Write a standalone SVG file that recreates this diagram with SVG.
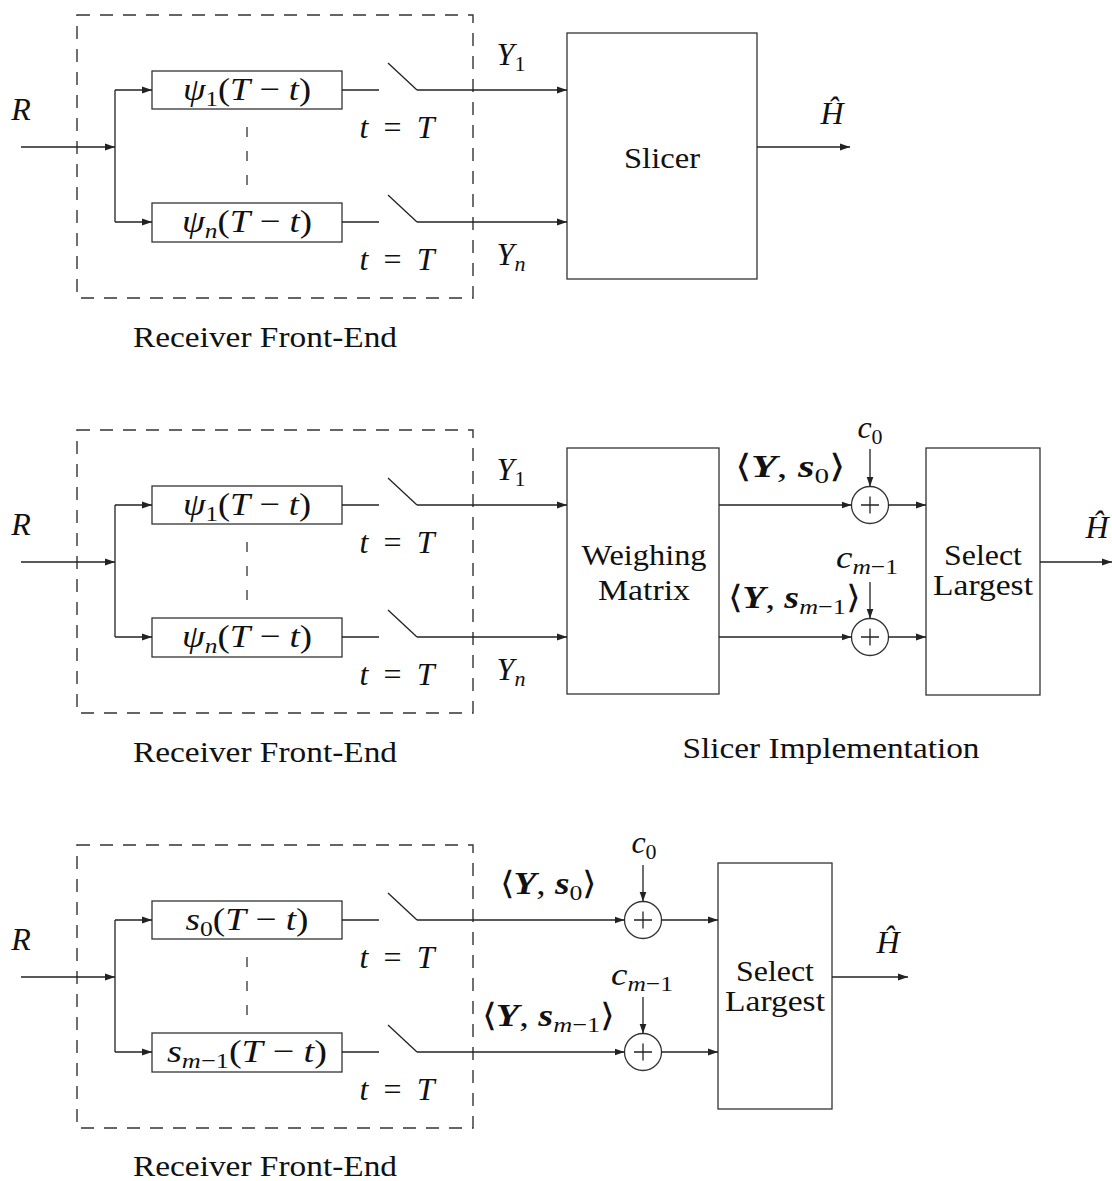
<svg xmlns="http://www.w3.org/2000/svg" width="1112" height="1181" viewBox="0 0 1112 1181">
<style>
.ln{stroke:#222;stroke-width:1.3;fill:none}
.arr{marker-end:url(#ah)}
.box{fill:#fff;stroke:#333;stroke-width:1.3}
.dash{fill:none;stroke:#333;stroke-width:1.4;stroke-dasharray:13 10}
.dv{fill:none;stroke:#333;stroke-width:1.3;stroke-dasharray:10 14}
.t{font-family:"Liberation Serif","Times New Roman","Noto Serif",serif;font-size:30px;fill:#111}
.m{font-size:32px}
.i{font-style:italic}
.b{font-weight:bold;font-style:italic}
.sub{font-size:22px}
</style>
<defs>
<marker id="ah" markerWidth="10" markerHeight="8" refX="10" refY="4" orient="auto" markerUnits="userSpaceOnUse"><path d="M0,0.5 L10,4 L0,7.5 z" fill="#222"/></marker>
</defs>
<rect width="1112" height="1181" fill="#fff"/>

<!-- ===== Panel 1 ===== -->
<g id="p1-frontend"><rect class="dash" x="77" y="15" width="396" height="283"/><text class="t" x="265" y="347" text-anchor="middle" textLength="264" lengthAdjust="spacingAndGlyphs">Receiver Front-End</text></g>
<g id="p1-R"><text class="t m i" x="21" y="120" text-anchor="middle">R</text></g>
<g id="p1-f1"><rect class="box" x="152" y="71" width="190" height="38"/><text class="t m" x="247" y="100" text-anchor="middle" textLength="128" lengthAdjust="spacingAndGlyphs"><tspan class="i">ψ</tspan><tspan class="sub" dy="6">1</tspan><tspan dy="-6">(</tspan><tspan class="i">T</tspan> − <tspan class="i">t</tspan>)</text></g>
<g id="p1-fn"><rect class="box" x="152" y="203" width="190" height="39"/><text class="t m" x="247" y="232" text-anchor="middle" textLength="130" lengthAdjust="spacingAndGlyphs"><tspan class="i">ψ</tspan><tspan class="sub i" dy="6">n</tspan><tspan dy="-6">(</tspan><tspan class="i">T</tspan> − <tspan class="i">t</tspan>)</text></g>
<g id="p1-sw1"><text class="t m" x="397" y="138" text-anchor="middle" textLength="75" lengthAdjust="spacing"><tspan class="i">t</tspan> = <tspan class="i">T</tspan></text></g>
<g id="p1-swn"><text class="t m" x="397" y="270" text-anchor="middle" textLength="75" lengthAdjust="spacing"><tspan class="i">t</tspan> = <tspan class="i">T</tspan></text></g>
<g id="p1-slicer"><rect class="box" x="567" y="33" width="190" height="246"/><text class="t" x="662" y="168" text-anchor="middle" textLength="76" lengthAdjust="spacingAndGlyphs">Slicer</text></g>
<g id="p1-labels">
<text class="t m" x="511" y="65" text-anchor="middle"><tspan class="i">Y</tspan><tspan class="sub" dy="6">1</tspan></text>
<text class="t m" x="511" y="265" text-anchor="middle"><tspan class="i">Y</tspan><tspan class="sub i" dy="6">n</tspan></text>
<text class="t m i" x="832" y="124" text-anchor="middle">Ĥ</text>
</g>
<g id="p1-connectors">
<line class="ln arr" x1="21" y1="147" x2="115" y2="147"/>
<path class="ln" d="M115,90 V222"/>
<line class="ln arr" x1="115" y1="90" x2="152" y2="90"/>
<line class="ln arr" x1="115" y1="222" x2="152" y2="222"/>
<line class="dv" x1="247" y1="127" x2="247" y2="186"/>
<line class="ln" x1="342" y1="90" x2="379" y2="90"/>
<line class="ln" x1="342" y1="222" x2="379" y2="222"/>
<line class="ln" x1="388" y1="63" x2="417" y2="90"/>
<line class="ln" x1="388" y1="195" x2="417" y2="222"/>
<line class="ln arr" x1="417" y1="90" x2="567" y2="90"/>
<line class="ln arr" x1="417" y1="222" x2="567" y2="222"/>
<line class="ln arr" x1="757" y1="147" x2="850" y2="147"/>
</g>

<!-- ===== Panel 2 ===== -->
<g id="p2-frontend"><rect class="dash" x="77" y="430" width="396" height="283"/><text class="t" x="265" y="762" text-anchor="middle" textLength="264" lengthAdjust="spacingAndGlyphs">Receiver Front-End</text></g>
<g id="p2-R"><text class="t m i" x="21" y="535" text-anchor="middle">R</text></g>
<g id="p2-f1"><rect class="box" x="152" y="486" width="190" height="38"/><text class="t m" x="247" y="515" text-anchor="middle" textLength="128" lengthAdjust="spacingAndGlyphs"><tspan class="i">ψ</tspan><tspan class="sub" dy="6">1</tspan><tspan dy="-6">(</tspan><tspan class="i">T</tspan> − <tspan class="i">t</tspan>)</text></g>
<g id="p2-fn"><rect class="box" x="152" y="618" width="190" height="39"/><text class="t m" x="247" y="647" text-anchor="middle" textLength="130" lengthAdjust="spacingAndGlyphs"><tspan class="i">ψ</tspan><tspan class="sub i" dy="6">n</tspan><tspan dy="-6">(</tspan><tspan class="i">T</tspan> − <tspan class="i">t</tspan>)</text></g>
<g id="p2-sw1"><text class="t m" x="397" y="553" text-anchor="middle" textLength="75" lengthAdjust="spacing"><tspan class="i">t</tspan> = <tspan class="i">T</tspan></text></g>
<g id="p2-swn"><text class="t m" x="397" y="685" text-anchor="middle" textLength="75" lengthAdjust="spacing"><tspan class="i">t</tspan> = <tspan class="i">T</tspan></text></g>
<g id="p2-weigh"><rect class="box" x="567" y="448" width="152" height="246"/>
<text class="t" x="644" y="565" text-anchor="middle" textLength="125" lengthAdjust="spacingAndGlyphs">Weighing</text>
<text class="t" x="644" y="600" text-anchor="middle" textLength="92" lengthAdjust="spacingAndGlyphs">Matrix</text></g>
<g id="p2-sum0"><circle class="box" cx="870" cy="505" r="18.5"/><path class="ln" d="M861,505 H879 M870,496.5 V513.5"/><text class="t m" x="870" y="438" text-anchor="middle"><tspan class="i">c</tspan><tspan class="sub" dy="6">0</tspan></text></g>
<g id="p2-sum1"><circle class="box" cx="870" cy="637" r="18.5"/><path class="ln" d="M861,637 H879 M870,628.5 V645.5"/><text class="t m" x="867" y="568" text-anchor="middle" textLength="62" lengthAdjust="spacingAndGlyphs"><tspan class="i">c</tspan><tspan class="sub" dy="6"><tspan class="i">m</tspan>−1</tspan></text></g>
<g id="p2-select"><rect class="box" x="926" y="448" width="114" height="247"/>
<text class="t" x="983" y="565" text-anchor="middle" textLength="78" lengthAdjust="spacingAndGlyphs">Select</text>
<text class="t" x="983" y="595" text-anchor="middle" textLength="100" lengthAdjust="spacingAndGlyphs">Largest</text></g>
<g id="p2-labels">
<text class="t m" x="511" y="480" text-anchor="middle"><tspan class="i">Y</tspan><tspan class="sub" dy="6">1</tspan></text>
<text class="t m" x="511" y="680" text-anchor="middle"><tspan class="i">Y</tspan><tspan class="sub i" dy="6">n</tspan></text>
<text class="t m" x="790" y="477" text-anchor="middle" textLength="110" lengthAdjust="spacingAndGlyphs">⟨<tspan class="b">Y</tspan>, <tspan class="b">s</tspan><tspan class="sub" dy="6">0</tspan><tspan dy="-6">⟩</tspan></text>
<text class="t m" x="794" y="608" text-anchor="middle" textLength="132" lengthAdjust="spacingAndGlyphs">⟨<tspan class="b">Y</tspan>, <tspan class="b">s</tspan><tspan class="sub" dy="6"><tspan class="i">m</tspan>−1</tspan><tspan dy="-6">⟩</tspan></text>
<text class="t m i" x="1097" y="538" text-anchor="middle">Ĥ</text>
<text class="t" x="831" y="758" text-anchor="middle" textLength="297" lengthAdjust="spacingAndGlyphs">Slicer Implementation</text>
</g>
<g id="p2-connectors">
<line class="ln arr" x1="21" y1="562" x2="115" y2="562"/>
<path class="ln" d="M115,505 V637"/>
<line class="ln arr" x1="115" y1="505" x2="152" y2="505"/>
<line class="ln arr" x1="115" y1="637" x2="152" y2="637"/>
<line class="dv" x1="247" y1="542" x2="247" y2="601"/>
<line class="ln" x1="342" y1="505" x2="379" y2="505"/>
<line class="ln" x1="342" y1="637" x2="379" y2="637"/>
<line class="ln" x1="388" y1="478" x2="417" y2="505"/>
<line class="ln" x1="388" y1="610" x2="417" y2="637"/>
<line class="ln arr" x1="417" y1="505" x2="567" y2="505"/>
<line class="ln arr" x1="417" y1="637" x2="567" y2="637"/>
<line class="ln arr" x1="719" y1="505" x2="851.5" y2="505"/>
<line class="ln arr" x1="719" y1="637" x2="851.5" y2="637"/>
<line class="ln arr" x1="870" y1="449" x2="870" y2="486.5"/>
<line class="ln arr" x1="870" y1="582" x2="870" y2="618.5"/>
<line class="ln arr" x1="888.5" y1="505" x2="926" y2="505"/>
<line class="ln arr" x1="888.5" y1="637" x2="926" y2="637"/>
<line class="ln arr" x1="1040" y1="562" x2="1112" y2="562"/>
</g>

<!-- ===== Panel 3 ===== -->
<g id="p3-frontend"><rect class="dash" x="77" y="845" width="396" height="283"/><text class="t" x="265" y="1176" text-anchor="middle" textLength="264" lengthAdjust="spacingAndGlyphs">Receiver Front-End</text></g>
<g id="p3-R"><text class="t m i" x="21" y="950" text-anchor="middle">R</text></g>
<g id="p3-f0"><rect class="box" x="152" y="901" width="190" height="38"/><text class="t m" x="247" y="930" text-anchor="middle" textLength="123" lengthAdjust="spacingAndGlyphs"><tspan class="i">s</tspan><tspan class="sub" dy="6">0</tspan><tspan dy="-6">(</tspan><tspan class="i">T</tspan> − <tspan class="i">t</tspan>)</text></g>
<g id="p3-fm"><rect class="box" x="152" y="1033" width="190" height="39"/><text class="t m" x="247" y="1062" text-anchor="middle" textLength="160" lengthAdjust="spacingAndGlyphs"><tspan class="i">s</tspan><tspan class="sub" dy="6"><tspan class="i">m</tspan>−1</tspan><tspan dy="-6">(</tspan><tspan class="i">T</tspan> − <tspan class="i">t</tspan>)</text></g>
<g id="p3-sw1"><text class="t m" x="397" y="968" text-anchor="middle" textLength="75" lengthAdjust="spacing"><tspan class="i">t</tspan> = <tspan class="i">T</tspan></text></g>
<g id="p3-swm"><text class="t m" x="397" y="1100" text-anchor="middle" textLength="75" lengthAdjust="spacing"><tspan class="i">t</tspan> = <tspan class="i">T</tspan></text></g>
<g id="p3-sum0"><circle class="box" cx="643" cy="920" r="18.5"/><path class="ln" d="M634,920 H652 M643,911.5 V928.5"/><text class="t m" x="644" y="853" text-anchor="middle"><tspan class="i">c</tspan><tspan class="sub" dy="6">0</tspan></text></g>
<g id="p3-sum1"><circle class="box" cx="643" cy="1052" r="18.5"/><path class="ln" d="M634,1052 H652 M643,1043.5 V1060.5"/><text class="t m" x="642" y="985" text-anchor="middle" textLength="62" lengthAdjust="spacingAndGlyphs"><tspan class="i">c</tspan><tspan class="sub" dy="6"><tspan class="i">m</tspan>−1</tspan></text></g>
<g id="p3-select"><rect class="box" x="718" y="863" width="114" height="246"/>
<text class="t" x="775" y="981" text-anchor="middle" textLength="78" lengthAdjust="spacingAndGlyphs">Select</text>
<text class="t" x="775" y="1011" text-anchor="middle" textLength="100" lengthAdjust="spacingAndGlyphs">Largest</text></g>
<g id="p3-labels">
<text class="t m" x="548" y="894" text-anchor="middle" textLength="97" lengthAdjust="spacingAndGlyphs">⟨<tspan class="b">Y</tspan>, <tspan class="b">s</tspan><tspan class="sub" dy="6">0</tspan><tspan dy="-6">⟩</tspan></text>
<text class="t m" x="548" y="1026" text-anchor="middle" textLength="133" lengthAdjust="spacingAndGlyphs">⟨<tspan class="b">Y</tspan>, <tspan class="b">s</tspan><tspan class="sub" dy="6"><tspan class="i">m</tspan>−1</tspan><tspan dy="-6">⟩</tspan></text>
<text class="t m i" x="888" y="953" text-anchor="middle">Ĥ</text>
</g>
<g id="p3-connectors">
<line class="ln arr" x1="21" y1="977" x2="115" y2="977"/>
<path class="ln" d="M115,920 V1052"/>
<line class="ln arr" x1="115" y1="920" x2="152" y2="920"/>
<line class="ln arr" x1="115" y1="1052" x2="152" y2="1052"/>
<line class="dv" x1="247" y1="957" x2="247" y2="1016"/>
<line class="ln" x1="342" y1="920" x2="379" y2="920"/>
<line class="ln" x1="342" y1="1052" x2="379" y2="1052"/>
<line class="ln" x1="388" y1="893" x2="417" y2="920"/>
<line class="ln" x1="388" y1="1025" x2="417" y2="1052"/>
<line class="ln arr" x1="417" y1="920" x2="624.5" y2="920"/>
<line class="ln arr" x1="417" y1="1052" x2="624.5" y2="1052"/>
<line class="ln arr" x1="643" y1="865" x2="643" y2="901.5"/>
<line class="ln arr" x1="643" y1="997" x2="643" y2="1033.5"/>
<line class="ln arr" x1="661.5" y1="920" x2="718" y2="920"/>
<line class="ln arr" x1="661.5" y1="1052" x2="718" y2="1052"/>
<line class="ln arr" x1="832" y1="977" x2="908" y2="977"/>
</g>
</svg>
